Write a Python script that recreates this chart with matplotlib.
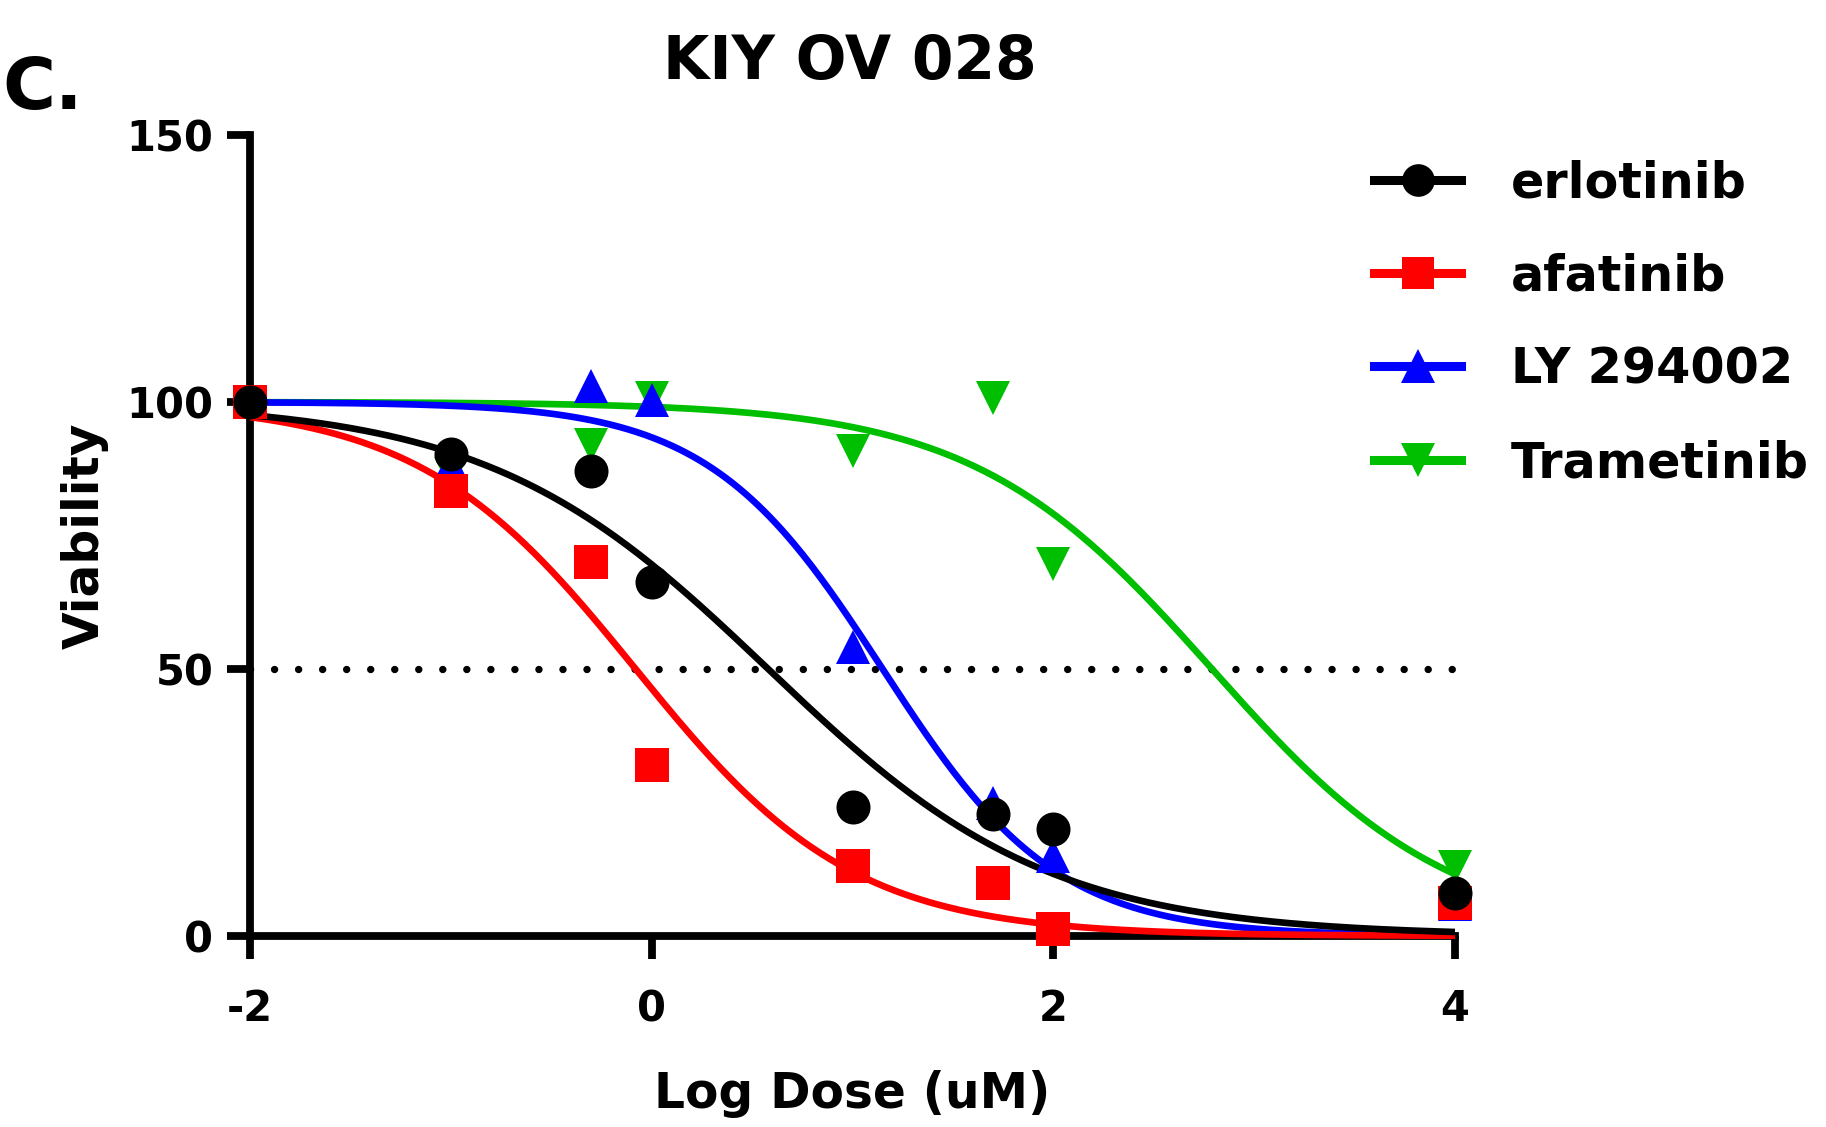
import numpy as np
import matplotlib
matplotlib.use("Agg")
import matplotlib.pyplot as plt
from matplotlib.lines import Line2D

# ---- data ----
log_dose = [-2, -1, -0.3, 0, 1, 1.7, 2, 4]
erlotinib = [100, 90.2, 87.1, 66.2, 24.2, 22.9, 20.1, 8.1]
afatinib = [100, 83.4, 70.1, 32.1, 13.1, 10.0, 1.3, 6.1]
ly294002 = [100, 88.4, 103.0, 100.3, 54.1, 24.9, 14.9, 6.0]
trametinib = [100, 86.5, 92.0, 100.8, 90.8, 100.7, 69.7, 12.9]

series_names = ["erlotinib", "afatinib", "LY 294002", "Trametinib"]
series_colors = ["#000000", "#FF0000", "#0000FF", "#00BF00"]
series_markers = ["o", "s", "^", "v"]
# fitted dose-response parameters (logIC50, Hill slope), top=100, bottom=0
fit_logic50 = [0.58, -0.08, 1.15, 2.79]
fit_hill = [0.62, 0.80, 1.00, 0.73]

x_ticks = [-2, 0, 2, 4]
y_ticks = [0, 50, 100, 150]
title = "KIY OV 028"
panel = "C."
x_label = "Log Dose (uM)"
y_label = "Viability"

plt.rcParams['font.family'] = ['DejaVu Sans']
plt.rcParams['font.weight'] = 'bold'

W, H = 1826, 1127
fig = plt.figure(figsize=(W / 100, H / 100), dpi=100)
ax = fig.add_axes([250 / W, 1 - 936 / H, 1205 / W, 801 / H])

values = [erlotinib, afatinib, ly294002, trametinib]
xs = np.linspace(min(log_dose), max(log_dose), 400)

# curves (drawn green -> black so black is on top)
for i in [3, 2, 1, 0]:
    ys = 100.0 / (1 + 10 ** ((xs - fit_logic50[i]) * fit_hill[i]))
    ax.plot(xs, ys, color=series_colors[i], lw=4.8, zorder=3, clip_on=False,
            solid_capstyle='butt')

# 50 % reference line
ax.plot([log_dose[0], log_dose[-1]], [50, 50], color='black', lw=5.3,
        linestyle=(0, (0.01, 3.255)), dash_capstyle='round', zorder=2,
        clip_on=False)

msize = {"o": 24.5, "s": 24.5, "^": 25, "v": 25}
for i in [3, 2, 1, 0]:
    ax.plot(log_dose, values[i], linestyle='none', marker=series_markers[i],
            markersize=msize[series_markers[i]], color=series_colors[i],
            markeredgewidth=0, zorder=5, clip_on=False)

ax.set_xlim(-2, 4)
ax.set_ylim(0, 150)
ax.set_xticks(x_ticks)
ax.set_yticks(y_ticks)
ax.set_xticklabels([str(t) for t in x_ticks])
ax.set_yticklabels([str(t) for t in y_ticks])

for s in ['top', 'right']:
    ax.spines[s].set_visible(False)
for s in ['left', 'bottom']:
    ax.spines[s].set_linewidth(5.6)
    ax.spines[s].set_zorder(2.5)
ax.tick_params(axis='both', width=5.6, length=16.5, direction='out',
               labelsize=30, color='black')
ax.tick_params(axis='x', pad=21)
ax.tick_params(axis='y', pad=10)
for lab in ax.get_xticklabels() + ax.get_yticklabels():
    lab.set_fontweight('bold')

ax.set_xlabel(x_label, fontsize=35, fontweight='bold')
ax.xaxis.set_label_coords(0.5, (936 - 1108) / 801)
ax.xaxis.label.set_va('baseline')
ax.set_ylabel(y_label, fontsize=35, fontweight='bold')
ax.yaxis.set_label_coords((99 - 250) / 1205, 0.5)
ax.yaxis.label.set_va('baseline')

fig.text(850 / W, 1 - 78.5 / H, title, fontsize=43, fontweight='bold',
         ha='center', va='baseline')
fig.text(2 / W, 1 - 109 / H, panel, fontsize=52, fontweight='bold',
         ha='left', va='baseline')

handles = []
for i in range(4):
    handles.append(Line2D([], [], color=series_colors[i], lw=6.5,
                          marker=series_markers[i],
                          markersize=msize[series_markers[i]] - 1,
                          markeredgewidth=0))
leg = fig.legend(handles, series_names, loc='upper left',
                 bbox_to_anchor=(1374 / W, 1 - 159 / H),
                 frameon=False, handlelength=1.77,
                 handletextpad=1.0, labelspacing=0.92, borderpad=0,
                 borderaxespad=0, prop={'weight': 'bold', 'size': 35.5})

fig.savefig("out.png", dpi=100)
